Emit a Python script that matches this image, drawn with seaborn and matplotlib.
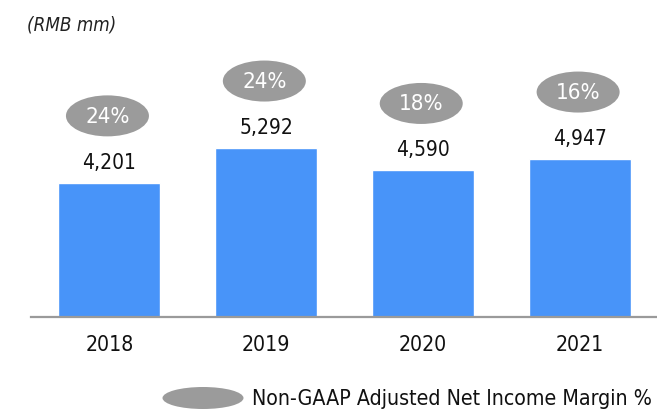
import matplotlib
matplotlib.use("Agg")
import matplotlib.pyplot as plt
from matplotlib import font_manager
from matplotlib.patches import Ellipse
import seaborn as sns

# data
years = ["2018", "2019", "2020", "2021"]
net_income = [4201, 5292, 4590, 4947]
margin_pct = [24, 24, 18, 16]

BAR_COLOR = "#4894f9"
PILL_COLOR = "#9b9b9b"
AXIS_COLOR = "#9a9a9a"

sns.set_style("white")
available = {f.name for f in font_manager.fontManager.ttflist}
if "Liberation Sans Narrow" in available:
    plt.rcParams["font.family"] = ["Liberation Sans Narrow", "DejaVu Sans"]
    plt.rcParams["font.stretch"] = "normal"
    scale = 1.08
else:
    plt.rcParams["font.family"] = ["DejaVu Sans"]
    plt.rcParams["font.stretch"] = "condensed"
    scale = 1.0

W, H = 657, 414
fig = plt.figure(figsize=(W / 100, H / 100), dpi=100)
# axes spans x 31..657 px, y 0..318 px (from top)
ax = fig.add_axes([31 / W, (H - 318) / H, (W - 31) / W, 318 / H])

sns.barplot(x=years, y=net_income, color=BAR_COLOR, width=0.65,
            saturation=1, ax=ax)
ax.set_xlim(-0.5, 3.49)
ax.set_ylim(0, 9960)

# pixel -> data scale
x_per_px = (3.49 + 0.5) / (W - 31)
y_per_px = 9960 / 318

for i, (v, m) in enumerate(zip(net_income, margin_pct)):
    ax.annotate(f"{v:,}", (i, v), xytext=(0, 21 * 0.72), textcoords="offset points",
                ha="center", va="center", fontsize=15 * scale, color="#111111")
    cy = v + 67 * y_per_px
    ax.add_patch(Ellipse((i - 2 * x_per_px, cy), 83 * x_per_px, 41 * y_per_px,
                         facecolor=PILL_COLOR, edgecolor="none", clip_on=False))
    ax.text(i - 2 * x_per_px, cy, f"{m}%", ha="center", va="center",
            fontsize=16 * scale, color="white")

sns.despine(ax=ax, left=True)
ax.spines["bottom"].set_color(AXIS_COLOR)
ax.spines["bottom"].set_linewidth(1.6)
ax.set_yticks([])
ax.set_xlabel("")
ax.set_ylabel("")
ax.tick_params(axis="x", length=0, pad=12, labelsize=15.2 * scale, labelcolor="#111111")

fig.text(27 / W, 1 - 25 / H, "(RMB mm)", style="italic", fontsize=13.5 * scale,
         ha="left", va="center", color="#222222")

# legend
fig.patches.append(Ellipse((203 / W, 1 - 399 / H), 81 / W, 22 / H,
                           transform=fig.transFigure, facecolor=PILL_COLOR,
                           edgecolor="none"))
fig.text(252 / W, 1 - 399 / H, "Non-GAAP Adjusted Net Income Margin %",
         fontsize=15.3 * scale, ha="left", va="center", color="#111111")

fig.savefig("out.png", dpi=100)
